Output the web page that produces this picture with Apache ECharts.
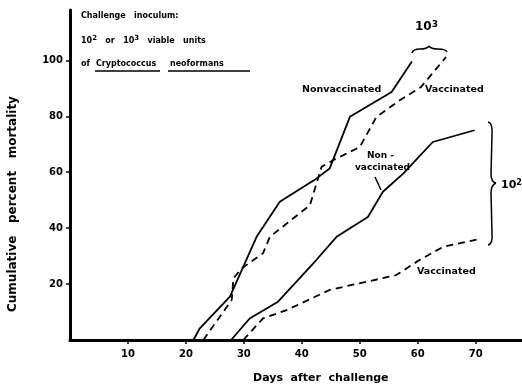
<!DOCTYPE html>
<html>
<head>
<meta charset="utf-8">
<script src="https://cdn.jsdelivr.net/npm/echarts@6/dist/echarts.min.js"></script>
<style>
  html, body { margin: 0; padding: 0; background: #fff; }
  #main { width: 522px; height: 386px; }
</style>
</head>
<body>
<div id="main"></div>
<script>
// tick labels
var xTicks = [10, 20, 30, 40, 50, 60, 70];
var yTicks = [20, 40, 60, 80, 100];

// 10^3 challenge, nonvaccinated (solid)
var days3Non = [21.3, 22.4, 27.6, 32.2, 36.2, 42.5, 44.8, 48.3, 55.5, 59.0];
var mort3Non = [0, 4.2, 15.5, 36.9, 49.4, 57.7, 61.3, 79.8, 88.7, 99.6];
// 10^3 challenge, vaccinated (dashed)
var days3Vac = [23.0, 27.9, 28.2, 29.6, 33.3, 34.5, 41.4, 43.4, 45.4, 50.0, 52.9, 56.9, 60.6, 64.9];
var mort3Vac = [0, 14.3, 22.0, 25.6, 31.0, 36.9, 48.2, 61.9, 64.3, 69.0, 79.8, 85.7, 90.5, 101.2];
// 10^2 challenge, nonvaccinated (solid)
var days2Non = [27.8, 31.0, 35.9, 42.5, 46.0, 51.4, 54.0, 57.5, 62.6, 69.8];
var mort2Non = [0, 7.7, 13.7, 28.6, 36.9, 44.0, 53.0, 59.5, 70.8, 75.0];
// 10^2 challenge, vaccinated (dashed)
var days2Vac = [29.9, 33.3, 37.4, 44.8, 56.3, 60.3, 64.4, 70.4];
var mort2Vac = [0, 7.7, 10.7, 17.9, 23.2, 28.6, 33.3, 36.0];

function pairs(xs, ys) {
  return xs.map(function (x, i) { return [x, ys[i]]; });
}

var font = 'DejaVu Sans';

function label(text, x, y, size, supSize) {
  return {
    type: 'text', x: x, y: y,
    style: {
      text: text, fontFamily: font, fontWeight: 'bold', fontSize: size || 8, fill: '#000',
      rich: { sup: { fontSize: supSize || 7, fontWeight: 'bold', fontFamily: font, verticalAlign: 'top', padding: [0, 0, 5, 0] } }
    }
  };
}

// quadratic bezier pieces for the hand drawn braces
function curve(x1, y1, cx, cy, x2, y2) {
  return { type: 'bezierCurve', shape: { x1: x1, y1: y1, cpx1: cx, cpy1: cy, x2: x2, y2: y2 },
    style: { stroke: '#000', fill: null, lineWidth: 1.5 } };
}
function seg(x1, y1, x2, y2) {
  return { type: 'line', shape: { x1: x1, y1: y1, x2: x2, y2: y2 }, style: { stroke: '#000', lineWidth: 1.5 } };
}

var chart = echarts.init(document.getElementById('main'));

var option = {
  animation: false,
  grid: { left: 70, right: 0, top: 10, bottom: 46 },
  xAxis: {
    type: 'value', min: 0, max: 78,
    axisLine: { lineStyle: { color: '#000', width: 3 } },
    axisTick: { customValues: xTicks, length: 4, lineStyle: { color: '#000', width: 1.5 } },
    axisLabel: { customValues: xTicks, color: '#000', fontFamily: font, fontWeight: 'bold', fontSize: 10, margin: 9 },
    splitLine: { show: false }
  },
  yAxis: {
    type: 'value', min: 0, max: 118,
    axisLine: { lineStyle: { color: '#000', width: 3 } },
    axisTick: { customValues: yTicks, length: 4, lineStyle: { color: '#000', width: 1.5 } },
    axisLabel: { customValues: yTicks, color: '#000', fontFamily: font, fontWeight: 'bold', fontSize: 10, margin: 7 },
    splitLine: { show: false }
  },
  series: [
    { name: '10^3 Nonvaccinated', type: 'line', data: pairs(days3Non, mort3Non), showSymbol: false,
      lineStyle: { color: '#000', width: 1.8 } },
    { name: '10^3 Vaccinated', type: 'line', data: pairs(days3Vac, mort3Vac), showSymbol: false,
      lineStyle: { color: '#000', width: 1.8, type: [7, 5] } },
    { name: '10^2 Nonvaccinated', type: 'line', data: pairs(days2Non, mort2Non), showSymbol: false,
      lineStyle: { color: '#000', width: 1.8 } },
    { name: '10^2 Vaccinated', type: 'line', data: pairs(days2Vac, mort2Vac), showSymbol: false,
      lineStyle: { color: '#000', width: 1.8, type: [7, 5] } }
  ],
  graphic: [
    label('Challenge   inoculum:', 81, 12),
    label('10{sup|2}   or   10{sup|3}   viable   units', 81, 35),
    label('of', 81, 60),
    label('Cryptococcus', 96, 60),
    label('neoformans', 170, 60),
    seg(95, 71, 160, 71),
    seg(168, 71, 250, 71),

    label('Nonvaccinated', 302, 85, 9.5),
    label('Vaccinated', 425, 85, 9.5),
    label('Non -', 367, 151, 9),
    label('vaccinated', 355, 163, 9),
    seg(375, 177, 381, 190),
    label('Vaccinated', 417, 267, 9.5),

    label('10{sup|3}', 415, 20, 12, 9),
    curve(412, 53, 413, 49, 420, 49),
    curve(420, 49, 427, 49, 429, 46),
    curve(429, 46, 431, 49, 438, 49),
    curve(438, 49, 446, 49, 447, 52),

    curve(488, 122, 493, 123, 492, 135),
    seg(492, 135, 491, 174),
    curve(491, 174, 491, 182, 496, 183),
    curve(496, 183, 491, 185, 491, 193),
    seg(491, 193, 492, 233),
    curve(492, 233, 493, 244, 488, 245),
    label('10{sup|2}', 501, 179, 11, 8),

    { type: 'text', x: 253, y: 373,
      style: { text: 'Days  after  challenge', fontFamily: font, fontWeight: 'bold', fontSize: 11, fill: '#000' } },
    { type: 'text', x: 7, y: 312, rotation: Math.PI / 2,
      style: { text: 'Cumulative   percent   mortality', fontFamily: font, fontWeight: 'bold', fontSize: 12, fill: '#000' } }
  ]
};

chart.setOption(option);
window.addEventListener('resize', function () { chart.resize(); });
</script>
</body>
</html>
